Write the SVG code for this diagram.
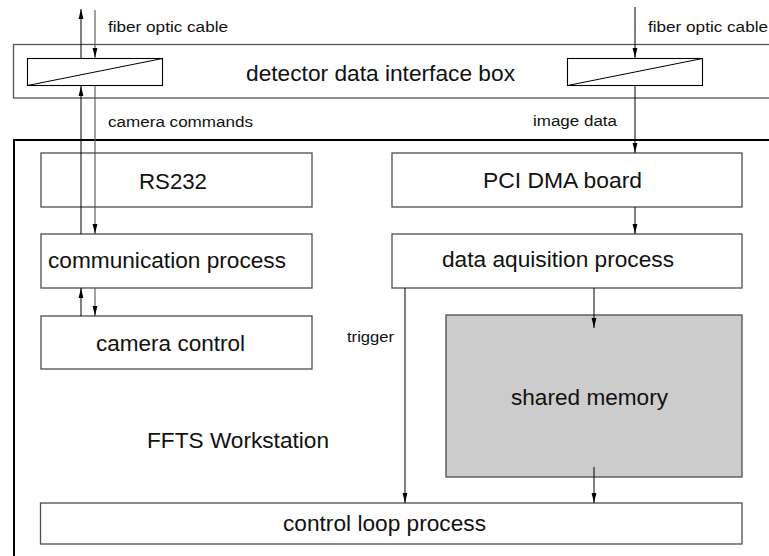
<svg xmlns="http://www.w3.org/2000/svg" width="769" height="556" viewBox="0 0 769 556">
  <style>
    .box { fill: #ffffff; stroke: #4d4d4d; stroke-width: 1.3; }
    .mem { fill: #cccccc; stroke: #4d4d4d; stroke-width: 1.3; }
    .conv { fill: #ffffff; stroke: #000000; stroke-width: 1.1; }
    .frame { fill: none; stroke: #000000; stroke-width: 2; }
    .outer { fill: #ffffff; stroke: #555555; stroke-width: 1.3; }
    .wire { fill: none; stroke: #000000; stroke-width: 1; }
    .wire-g { fill: none; stroke: #555555; stroke-width: 1.1; }
    .lbl { font-family: "Liberation Sans", Arial, Helvetica, sans-serif; font-size: 21.5px; fill: #111111; }
    .sm { font-family: "Liberation Sans", Arial, Helvetica, sans-serif; font-size: 15.5px; fill: #111111; }
    .xs { font-family: "Liberation Sans", Arial, Helvetica, sans-serif; font-size: 14px; fill: #111111; }
  </style>
  <defs>
    <marker id="arrow" markerUnits="userSpaceOnUse" markerWidth="10" markerHeight="6" refX="10" refY="3" orient="auto">
      <path d="M0,0.6 L10,3 L0,5.4 Z" fill="#000000"/>
    </marker>
  </defs>

  <rect width="769" height="556" fill="#ffffff"/>

  <!-- detector data interface box -->
  <g id="interface-box">
    <rect class="outer" x="13.5" y="44.5" width="800" height="53.5"/>
    <text class="lbl" x="246" y="81" textLength="269" lengthAdjust="spacingAndGlyphs">detector data interface box</text>
  </g>
  <g id="converter-left">
    <rect class="conv" x="27.5" y="58.5" width="135" height="27"/>
    <line class="wire" x1="27.5" y1="85.5" x2="162.5" y2="58.5"/>
  </g>
  <g id="converter-right">
    <rect class="conv" x="567.5" y="58.5" width="135" height="27"/>
    <line class="wire" x1="567.5" y1="85.5" x2="702.5" y2="58.5"/>
  </g>

  <!-- FFTS workstation frame -->
  <g id="workstation">
    <path class="frame" d="M14,560 V140 H775"/>
    <text class="lbl" x="147" y="448" textLength="182" lengthAdjust="spacingAndGlyphs">FFTS Workstation</text>
  </g>

  <g id="rs232">
    <rect class="box" x="41" y="153" width="271" height="54"/>
    <text class="lbl" x="139" y="189" textLength="68" lengthAdjust="spacingAndGlyphs">RS232</text>
  </g>
  <g id="communication-process">
    <rect class="box" x="41" y="234" width="271" height="54"/>
    <text class="lbl" x="48" y="268" textLength="238" lengthAdjust="spacingAndGlyphs">communication process</text>
  </g>
  <g id="camera-control">
    <rect class="box" x="41" y="316" width="271" height="53"/>
    <text class="lbl" x="96" y="351" textLength="149" lengthAdjust="spacingAndGlyphs">camera control</text>
  </g>
  <g id="pci-dma-board">
    <rect class="box" x="392" y="153" width="350" height="54"/>
    <text class="lbl" x="483" y="188" textLength="159" lengthAdjust="spacingAndGlyphs">PCI DMA board</text>
  </g>
  <g id="data-acquisition">
    <rect class="box" x="392" y="234" width="350" height="54"/>
    <text class="lbl" x="442" y="267" textLength="232" lengthAdjust="spacingAndGlyphs">data aquisition process</text>
  </g>
  <g id="shared-memory">
    <rect class="mem" x="446" y="315" width="296" height="162"/>
    <text class="lbl" x="511" y="405" textLength="157" lengthAdjust="spacingAndGlyphs">shared memory</text>
  </g>
  <g id="control-loop">
    <rect class="box" x="40.5" y="503" width="701.5" height="41"/>
    <text class="lbl" x="283" y="531" textLength="203" lengthAdjust="spacingAndGlyphs">control loop process</text>
  </g>

  <!-- connectors -->
  <g id="connectors">
    <!-- fiber link, camera side -->
    <line class="wire" x1="81" y1="58" x2="81" y2="9" marker-end="url(#arrow)"/>
    <line class="wire-g" x1="95" y1="10" x2="95" y2="58" marker-end="url(#arrow)"/>
    <!-- camera commands -->
    <line class="wire" x1="81" y1="234" x2="81" y2="86" marker-end="url(#arrow)"/>
    <line class="wire-g" x1="95" y1="86" x2="95" y2="234" marker-end="url(#arrow)"/>
    <!-- communication process <-> camera control -->
    <line class="wire" x1="81" y1="316" x2="81" y2="288" marker-end="url(#arrow)"/>
    <line class="wire-g" x1="95" y1="288" x2="95" y2="316" marker-end="url(#arrow)"/>
    <!-- fiber link, image side -->
    <line class="wire" x1="635" y1="7" x2="635" y2="58" marker-end="url(#arrow)"/>
    <line class="wire" x1="635" y1="86" x2="635" y2="153" marker-end="url(#arrow)"/>
    <line class="wire" x1="635" y1="207" x2="635" y2="234" marker-end="url(#arrow)"/>
    <!-- acquisition to memory and control loop -->
    <line class="wire" x1="594" y1="288" x2="594" y2="328" marker-end="url(#arrow)"/>
    <line class="wire" x1="594" y1="467" x2="594" y2="503" marker-end="url(#arrow)"/>
    <line class="wire" x1="405" y1="288" x2="405" y2="503" marker-end="url(#arrow)"/>
  </g>

  <!-- connector labels -->
  <g id="labels">
    <text class="sm" x="108" y="32" textLength="120" lengthAdjust="spacingAndGlyphs">fiber optic cable</text>
    <text class="sm" x="648" y="32" textLength="120" lengthAdjust="spacingAndGlyphs">fiber optic cable</text>
    <text class="sm" x="108" y="127" textLength="145" lengthAdjust="spacingAndGlyphs">camera commands</text>
    <text class="sm" x="533" y="126" textLength="84" lengthAdjust="spacingAndGlyphs">image data</text>
    <text class="xs" x="347" y="342" textLength="47" lengthAdjust="spacingAndGlyphs">trigger</text>
  </g>
</svg>
